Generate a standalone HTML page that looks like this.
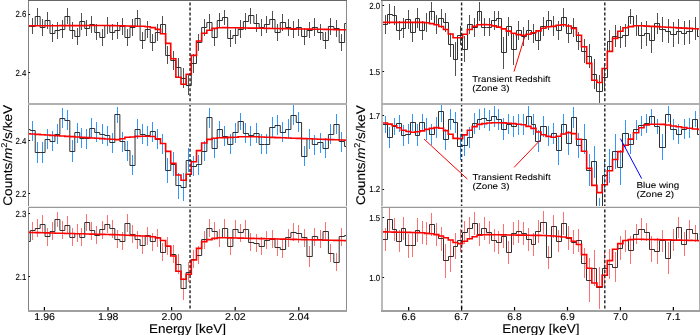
<!DOCTYPE html>
<html><head><meta charset="utf-8"><style>
html,body{margin:0;padding:0;background:#fff;}
body{width:700px;height:335px;overflow:hidden;}
svg{display:block;}
text{font-family:"Liberation Sans",sans-serif;text-rendering:geometricPrecision;}
.gt{filter:grayscale(1);}
</style></head><body>
<svg width="700" height="335" viewBox="0 0 700 335">
<rect width="700" height="335" fill="#fff"/>
<defs>
<clipPath id="cTL"><rect x="28.5" y="0.5" width="318" height="103.5"/></clipPath>
<clipPath id="cML"><rect x="28.5" y="104" width="318" height="103.5"/></clipPath>
<clipPath id="cBL"><rect x="28.5" y="207.5" width="318" height="103"/></clipPath>
<clipPath id="cTR"><rect x="382" y="0.5" width="317.5" height="103.5"/></clipPath>
<clipPath id="cMR"><rect x="382" y="104" width="317.5" height="103.5"/></clipPath>
<clipPath id="cBR"><rect x="382" y="207.5" width="317.5" height="103"/></clipPath>
</defs>
<g clip-path="url(#cTL)">
<path d="M27.50 18.00V34.00M32.50 18.00V34.00M37.50 8.00V25.00M42.50 19.00V36.00M47.50 12.00V29.00M52.50 24.00V42.00M57.50 22.00V39.00M62.50 20.00V38.00M67.50 8.00V24.00M72.50 22.00V39.00M77.50 28.00V45.00M81.50 13.00V30.00M86.50 20.00V36.00M91.50 16.00V33.00M96.50 24.00V40.00M102.50 29.00V46.00M107.50 17.00V34.00M112.50 24.00V40.00M117.50 22.00V39.00M122.50 18.00V35.00M127.50 29.00V46.00M132.50 19.00V36.00M137.50 10.00V27.00M142.50 32.00V49.00M147.50 21.00V38.00M152.50 34.00V51.00M157.50 24.00V41.00M162.50 16.00V33.00M167.50 46.00V64.00M173.50 51.00V70.00M178.50 58.00V77.00M183.50 68.00V88.00M188.50 75.00V95.00M193.50 54.00V73.00M198.50 34.00V51.00M204.50 19.00V36.00M209.50 14.00V31.00M214.50 29.00V46.00M219.50 13.00V28.00M224.50 10.00V25.00M230.50 30.00V47.00M235.50 27.00V44.00M240.50 20.00V38.00M245.50 13.00V30.00M250.50 8.00V24.00M256.50 14.00V32.00M261.50 19.00V36.00M266.50 16.00V33.00M272.50 11.00V28.00M277.50 24.00V41.00M282.50 14.00V31.00M288.50 19.00V36.00M293.50 21.00V38.00M298.50 19.00V36.00M304.50 28.00V45.00M309.50 22.00V38.00M314.50 18.00V36.00M320.50 24.00V40.00M325.50 32.00V49.00M330.50 18.00V35.00M336.50 20.00V37.00M341.50 34.00V51.00M347.50 15.00V32.00" stroke="#505050" stroke-width="1.0" fill="none"/>
<path d="M25.42 26.50H30.32V26.50H35.22V16.50H40.14V27.50H45.06V20.50H50.00V33.50H54.93V30.50H59.88V29.50H64.84V16.50H69.80V30.50H74.77V36.50H79.75V21.50H84.74V28.50H89.73V24.50H94.73V32.50H99.74V37.50H104.76V25.50H109.79V32.50H114.82V30.50H119.87V26.50H124.92V37.50H129.98V27.50H135.04V18.50H140.12V40.50H145.20V29.50H150.29V42.50H155.39V32.50H160.50V24.50H165.62V55.50H170.74V60.50H175.87V67.50H181.01V78.50H186.16V85.50H191.32V63.50H196.49V42.50H201.66V27.50H206.84V22.50H212.03V37.50H217.23V20.50H222.44V17.50H227.66V38.50H232.88V35.50H238.11V29.50H243.36V21.50H248.61V15.50H253.87V23.50H259.13V27.50H264.41V24.50H269.70V19.50H274.99V32.50H280.29V22.50H285.60V27.50H290.92V29.50H296.25V27.50H301.59V36.50H306.93V30.50H312.29V27.50H317.65V32.50H323.02V40.50H328.41V26.50H333.80V28.50H339.19V42.50H344.60V23.50H350.02" stroke="#262626" stroke-width="0.95" fill="none" stroke-linejoin="miter"/>
<path d="M25.42 25.80H30.32V25.78H35.22V25.76H40.14V25.74H45.06V25.72H50.00V25.70H54.93V25.68H59.88V25.66H64.84V25.64H69.80V25.62H74.77V25.60H79.75V25.58H84.74V25.56H89.73V25.54H94.73V25.52H99.74V25.50H104.76V25.48H109.79V25.60H114.82V25.72H119.87V25.84H124.92V25.96H129.98V26.08H135.04V26.20H140.12V26.32H145.20V26.70H150.29V27.60H155.39V29.40H160.50V33.80H165.62V43.40H170.74V58.80H175.87V77.20H181.01V84.30H186.16V74.30H191.32V55.40H196.49V41.00H201.66V33.20H206.84V30.20H212.03V28.40H217.23V27.80H222.44V27.60H227.66V27.70H232.88V27.79H238.11V27.89H243.36V27.98H248.61V28.08H253.87V28.17H259.13V28.27H264.41V28.37H269.70V28.46H274.99V28.56H280.29V28.65H285.60V28.75H290.92V28.84H296.25V28.94H301.59V29.03H306.93V29.13H312.29V29.23H317.65V29.32H323.02V29.42H328.41V29.51H333.80V29.61H339.19V29.70H344.60V29.80H350.02" stroke="#ff0000" stroke-width="1.6" fill="none"/>
</g>
<g clip-path="url(#cML)">
<path d="M27.50 119.00V139.00M32.50 121.00V141.00M37.50 142.00V163.00M42.50 142.00V163.00M47.50 129.00V149.00M52.50 131.00V151.00M57.50 124.00V144.00M62.50 108.00V128.00M67.50 110.00V130.00M72.50 140.00V162.00M77.50 123.00V143.00M81.50 128.00V148.00M86.50 129.00V149.00M91.50 118.00V138.00M96.50 122.00V142.00M102.50 124.00V144.00M107.50 126.00V146.00M112.50 133.00V153.00M117.50 107.00V123.00M122.50 132.00V152.00M127.50 141.00V161.00M132.50 155.00V175.00M137.50 119.00V139.00M142.50 124.00V144.00M147.50 126.00V146.00M152.50 122.00V142.00M157.50 129.00V149.00M162.50 134.00V154.00M167.50 158.00V183.00M173.50 152.00V176.00M178.50 173.00V199.00M183.50 173.00V201.00M188.50 148.00V172.00M193.50 156.00V176.00M198.50 155.00V175.00M204.50 141.00V161.00M209.50 108.00V128.00M214.50 138.00V158.00M219.50 121.00V138.00M224.50 126.00V146.00M230.50 134.00V154.00M235.50 123.00V143.00M240.50 113.00V130.00M245.50 123.00V143.00M250.50 126.00V146.00M256.50 123.00V143.00M261.50 134.00V154.00M266.50 134.00V154.00M272.50 117.00V137.00M277.50 115.00V135.00M282.50 122.00V142.00M288.50 119.00V139.00M293.50 105.00V125.00M298.50 112.00V132.00M304.50 146.00V166.00M309.50 129.00V149.00M314.50 135.00V155.00M320.50 133.00V153.00M325.50 138.00V158.00M330.50 124.00V144.00M336.50 114.00V134.00M341.50 132.00V152.00M347.50 136.00V156.00" stroke="#3296ff" stroke-width="1.0" fill="none"/>
<path d="M25.42 129.50H30.32V130.50H35.22V152.50H40.14V152.50H45.06V139.50H50.00V141.50H54.93V134.50H59.88V118.50H64.84V120.50H69.80V151.50H74.77V132.50H79.75V138.50H84.74V138.50H89.73V128.50H94.73V132.50H99.74V134.50H104.76V135.50H109.79V142.50H114.82V114.50H119.87V141.50H124.92V150.50H129.98V165.50H135.04V129.50H140.12V134.50H145.20V135.50H150.29V131.50H155.39V139.50H160.50V143.50H165.62V170.50H170.74V164.50H175.87V185.50H181.01V187.50H186.16V160.50H191.32V166.50H196.49V164.50H201.66V151.50H206.84V117.50H212.03V148.50H217.23V129.50H222.44V136.50H227.66V144.50H232.88V132.50H238.11V121.50H243.36V133.50H248.61V135.50H253.87V133.50H259.13V144.50H264.41V144.50H269.70V127.50H274.99V125.50H280.29V132.50H285.60V129.50H290.92V115.50H296.25V122.50H301.59V156.50H306.93V138.50H312.29V144.50H317.65V142.50H323.02V148.50H328.41V134.50H333.80V124.50H339.19V141.50H344.60V146.50H350.02" stroke="#262626" stroke-width="0.95" fill="none" stroke-linejoin="miter"/>
<path d="M25.42 133.70H30.32V134.03H35.22V134.36H40.14V134.69H45.06V135.02H50.00V135.35H54.93V135.68H59.88V136.01H64.84V136.34H69.80V136.66H74.77V136.99H79.75V137.32H84.74V137.65H89.73V137.98H94.73V138.31H99.74V138.64H104.76V138.97H109.79V139.30H114.82V139.60H119.87V138.80H124.92V137.20H129.98V137.00H135.04V136.40H140.12V136.30H145.20V136.20H150.29V136.50H155.39V138.90H160.50V143.50H165.62V151.40H170.74V163.40H175.87V175.00H181.01V180.20H186.16V174.20H191.32V161.80H196.49V150.60H201.66V143.00H206.84V139.40H212.03V138.20H217.23V137.80H222.44V137.60H227.66V137.40H232.88V137.20H238.11V136.80H243.36V136.70H248.61V136.70H253.87V136.80H259.13V137.00H264.41V137.30H269.70V137.40H274.99V137.60H280.29V137.80H285.60V138.00H290.92V138.20H296.25V138.40H301.59V138.60H306.93V138.80H312.29V139.00H317.65V139.20H323.02V139.40H328.41V139.60H333.80V139.80H339.19V140.00H344.60V140.20H350.02" stroke="#ff0000" stroke-width="1.6" fill="none"/>
</g>
<g clip-path="url(#cBL)">
<path d="M27.50 232.00V250.00M32.50 222.00V240.00M37.50 219.00V237.00M42.50 215.00V233.00M47.50 228.00V246.00M52.50 222.00V240.00M57.50 212.00V227.00M62.50 221.00V239.00M67.50 216.00V234.00M72.50 228.00V246.00M77.50 224.00V242.00M81.50 228.00V246.00M86.50 214.00V231.00M91.50 222.00V240.00M96.50 226.00V244.00M102.50 221.00V239.00M107.50 215.00V233.00M112.50 220.00V238.00M117.50 230.00V248.00M122.50 232.00V250.00M127.50 214.00V232.00M132.50 225.00V243.00M137.50 231.00V249.00M142.50 236.00V254.00M147.50 227.00V245.00M152.50 233.00V251.00M157.50 229.00V247.00M162.50 243.00V261.00M167.50 237.00V255.00M173.50 245.00V263.00M178.50 254.00V274.00M183.50 278.00V300.00M188.50 262.00V282.00M193.50 250.00V268.00M198.50 246.00V264.00M204.50 231.00V249.00M209.50 219.00V237.00M214.50 222.00V240.00M219.50 229.00V247.00M224.50 219.00V237.00M230.50 237.00V255.00M235.50 220.00V238.00M240.50 224.00V242.00M245.50 220.00V238.00M250.50 233.00V251.00M256.50 234.00V252.00M261.50 237.00V255.00M266.50 231.00V249.00M272.50 230.00V248.00M277.50 238.00V256.00M282.50 240.00V258.00M288.50 229.00V247.00M293.50 223.00V241.00M298.50 225.00V243.00M304.50 229.00V247.00M309.50 246.00V267.00M314.50 228.00V246.00M320.50 230.00V248.00M325.50 222.00V240.00M330.50 244.00V262.00M336.50 253.00V271.00M341.50 228.00V246.00M347.50 226.00V244.00" stroke="#ff7070" stroke-width="1.0" fill="none"/>
<path d="M25.42 241.50H30.32V230.50H35.22V228.50H40.14V224.50H45.06V236.50H50.00V231.50H54.93V219.50H59.88V230.50H64.84V225.50H69.80V237.50H74.77V233.50H79.75V237.50H84.74V222.50H89.73V230.50H94.73V235.50H99.74V229.50H104.76V224.50H109.79V228.50H114.82V239.50H119.87V241.50H124.92V223.50H129.98V234.50H135.04V239.50H140.12V245.50H145.20V235.50H150.29V241.50H155.39V237.50H160.50V252.50H165.62V246.50H170.74V254.50H175.87V264.50H181.01V288.50H186.16V272.50H191.32V259.50H196.49V255.50H201.66V239.50H206.84V228.50H212.03V231.50H217.23V237.50H222.44V228.50H227.66V246.50H232.88V229.50H238.11V232.50H243.36V229.50H248.61V242.50H253.87V243.50H259.13V246.50H264.41V240.50H269.70V239.50H274.99V247.50H280.29V249.50H285.60V237.50H290.92V232.50H296.25V233.50H301.59V237.50H306.93V256.50H312.29V236.50H317.65V239.50H323.02V231.50H328.41V253.50H333.80V262.50H339.19V236.50H344.60V235.50H350.02" stroke="#262626" stroke-width="0.95" fill="none" stroke-linejoin="miter"/>
<path d="M25.42 232.40H30.32V232.53H35.22V232.66H40.14V232.79H45.06V232.92H50.00V233.05H54.93V233.18H59.88V233.31H64.84V233.44H69.80V233.56H74.77V233.69H79.75V233.82H84.74V233.95H89.73V234.08H94.73V234.21H99.74V234.34H104.76V234.47H109.79V234.60H114.82V234.80H119.87V235.00H124.92V235.20H129.98V235.40H135.04V235.70H140.12V236.00H145.20V236.20H150.29V236.80H155.39V238.00H160.50V240.50H165.62V246.00H170.74V256.00H175.87V271.30H181.01V279.20H186.16V274.20H191.32V260.00H196.49V248.40H201.66V241.60H206.84V239.60H212.03V238.40H217.23V237.80H222.44V237.80H227.66V237.92H232.88V238.04H238.11V238.17H243.36V238.29H248.61V238.41H253.87V238.53H259.13V238.65H264.41V238.77H269.70V238.90H274.99V239.02H280.29V239.14H285.60V239.26H290.92V239.38H296.25V239.50H301.59V239.63H306.93V239.75H312.29V239.87H317.65V239.99H323.02V240.11H328.41V240.23H333.80V240.36H339.19V240.48H344.60V240.60H350.02" stroke="#ff0000" stroke-width="1.6" fill="none"/>
</g>
<g clip-path="url(#cTR)">
<path d="M380.50 14.00V32.00M385.50 15.00V34.00M389.50 4.00V24.00M394.50 6.00V25.00M399.50 21.00V40.00M403.50 18.00V38.00M408.50 10.00V29.00M412.50 23.00V42.00M417.50 8.00V28.00M422.50 21.00V40.00M426.50 13.00V32.00M431.50 2.00V20.00M436.50 15.00V34.00M441.50 9.00V28.00M445.50 13.00V32.00M450.50 33.00V57.00M455.50 42.00V76.00M460.50 26.00V45.00M464.50 36.00V62.00M469.50 15.00V34.00M474.50 18.00V37.00M479.50 2.00V21.00M484.50 18.00V36.00M489.50 18.00V36.00M494.50 11.00V30.00M498.50 11.00V27.00M503.50 37.00V69.00M508.50 17.00V36.00M513.50 33.00V65.00M518.50 21.00V40.00M523.50 27.00V46.00M528.50 20.00V40.00M533.50 24.00V43.00M538.50 31.00V50.00M543.50 17.00V36.00M548.50 11.00V30.00M553.50 16.00V36.00M558.50 21.00V40.00M563.50 8.00V27.00M568.50 24.00V43.00M573.50 18.00V37.00M578.50 32.00V50.00M584.50 39.00V63.00M589.50 44.00V68.00M594.50 59.00V89.00M599.50 75.00V107.00M604.50 64.00V90.00M609.50 30.00V52.00M615.50 25.00V47.00M620.50 26.00V48.00M625.50 24.00V47.00M630.50 9.00V24.00M636.50 15.00V36.00M641.50 22.00V49.00M646.50 21.00V46.00M651.50 27.00V53.00M657.50 13.00V34.00M662.50 17.00V42.00M668.50 19.00V43.00M673.50 22.00V47.00M678.50 19.00V44.00M684.50 21.00V45.00M689.50 20.00V44.00M695.50 17.00V40.00M700.50 24.00V48.00" stroke="#505050" stroke-width="1.0" fill="none"/>
<path d="M378.50 23.50H382.50V24.50H387.50V14.50H392.50V15.50H396.50V30.50H401.50V28.50H405.50V19.50H410.50V32.50H415.50V18.50H419.50V30.50H424.50V22.50H429.50V11.50H434.50V24.50H438.50V18.50H443.50V22.50H448.50V44.50H453.50V59.50H457.50V35.50H462.50V49.50H467.50V24.50H472.50V27.50H477.50V11.50H481.50V27.50H486.50V27.50H491.50V20.50H496.50V18.50H501.50V52.50H506.50V26.50H511.50V49.50H516.50V30.50H521.50V36.50H526.50V30.50H531.50V33.50H535.50V40.50H540.50V26.50H546.50V20.50H551.50V26.50H556.50V30.50H561.50V17.50H566.50V33.50H571.50V27.50H576.50V41.50H581.50V51.50H586.50V56.50H591.50V74.50H596.50V91.50H602.50V77.50H607.50V41.50H612.50V36.50H617.50V37.50H622.50V35.50H628.50V16.50H633.50V25.50H638.50V35.50H644.50V33.50H649.50V40.50H654.50V23.50H659.50V29.50H665.50V31.50H670.50V34.50H676.50V31.50H681.50V33.50H686.50V31.50H692.50V28.50H697.50V36.50H703.50" stroke="#262626" stroke-width="0.95" fill="none" stroke-linejoin="miter"/>
<path d="M378.34 22.40H382.91V22.40H387.50V22.40H392.10V22.40H396.71V22.40H401.34V22.40H405.97V22.40H410.62V22.40H415.28V22.40H419.96V22.40H424.64V22.80H429.34V23.60H434.05V24.80H438.78V26.50H443.51V29.50H448.26V34.00H453.03V37.80H457.80V37.80H462.59V34.30H467.39V29.50H472.20V26.20H477.03V24.70H481.87V24.60H486.72V24.70H491.59V25.90H496.47V27.10H501.36V28.90H506.27V31.10H511.19V33.30H516.12V34.60H521.07V35.20H526.03V34.20H531.01V32.70H535.99V30.90H541.00V28.20H546.01V26.80H551.04V26.40H556.09V25.20H561.14V24.80H566.21V26.00H571.30V28.40H576.40V35.30H581.51V46.80H586.64V63.40H591.79V80.30H596.94V82.50H602.12V68.50H607.30V51.40H612.50V38.40H617.72V31.30H622.95V27.80H628.19V26.60H633.45V25.80H638.73V25.80H644.02V26.09H649.32V26.38H654.64V26.67H659.98V26.96H665.33V27.25H670.69V27.55H676.08V27.84H681.47V28.13H686.88V28.42H692.31V28.71H697.76V29.00H703.22" stroke="#ff0000" stroke-width="1.6" fill="none"/>
</g>
<g clip-path="url(#cMR)">
<path d="M380.50 124.00V146.00M385.50 116.00V133.00M389.50 127.00V148.00M394.50 118.00V135.00M399.50 115.00V132.00M403.50 125.00V146.00M408.50 124.00V144.00M412.50 114.00V131.00M417.50 124.00V146.00M422.50 114.00V131.00M426.50 118.00V140.00M431.50 124.00V145.00M436.50 117.00V138.00M441.50 101.00V122.00M445.50 129.00V150.00M450.50 109.00V130.00M455.50 112.00V133.00M460.50 134.00V160.00M464.50 134.00V156.00M469.50 127.00V148.00M474.50 113.00V134.00M479.50 109.00V130.00M484.50 108.00V128.00M489.50 110.00V131.00M494.50 106.00V127.00M498.50 109.00V130.00M503.50 118.00V140.00M508.50 114.00V134.00M513.50 116.00V137.00M518.50 114.00V135.00M523.50 114.00V135.00M528.50 106.00V127.00M533.50 114.00V135.00M538.50 130.00V152.00M543.50 116.00V137.00M548.50 126.00V146.00M553.50 123.00V144.00M558.50 136.00V165.00M563.50 114.00V135.00M568.50 131.00V155.00M573.50 107.00V128.00M578.50 133.00V158.00M584.50 124.00V154.00M589.50 154.00V186.00M594.50 146.00V178.00M599.50 198.00V232.00M604.50 160.00V192.00M609.50 149.00V183.00M615.50 134.00V169.00M620.50 150.00V185.00M625.50 120.00V148.00M630.50 134.00V154.00M636.50 120.00V140.00M641.50 116.00V136.00M646.50 114.00V133.00M651.50 109.00V125.00M657.50 119.00V134.00M662.50 134.00V160.00M668.50 106.00V122.00M673.50 119.00V140.00M678.50 124.00V144.00M684.50 119.00V139.00M689.50 118.00V138.00M695.50 111.00V127.00M700.50 124.00V145.00" stroke="#3296ff" stroke-width="1.0" fill="none"/>
<path d="M378.50 135.50H382.50V124.50H387.50V137.50H392.50V126.50H396.50V123.50H401.50V135.50H405.50V134.50H410.50V122.50H415.50V135.50H419.50V122.50H424.50V129.50H429.50V134.50H434.50V127.50H438.50V111.50H443.50V139.50H448.50V119.50H453.50V122.50H457.50V146.50H462.50V145.50H467.50V137.50H472.50V123.50H477.50V119.50H481.50V118.50H486.50V120.50H491.50V116.50H496.50V119.50H501.50V129.50H506.50V124.50H511.50V126.50H516.50V124.50H521.50V124.50H526.50V116.50H531.50V124.50H535.50V141.50H540.50V126.50H546.50V136.50H551.50V133.50H556.50V150.50H561.50V124.50H566.50V143.50H571.50V117.50H576.50V145.50H581.50V139.50H586.50V170.50H591.50V161.50H596.50V215.50H602.50V175.50H607.50V166.50H612.50V151.50H617.50V167.50H622.50V133.50H628.50V144.50H633.50V129.50H638.50V125.50H644.50V123.50H649.50V116.50H654.50V126.50H659.50V147.50H665.50V114.50H670.50V129.50H676.50V134.50H681.50V129.50H686.50V128.50H692.50V119.50H697.50V134.50H703.50" stroke="#262626" stroke-width="0.95" fill="none" stroke-linejoin="miter"/>
<path d="M378.34 123.00H382.91V123.00H387.50V124.10H392.10V125.70H396.71V127.80H401.34V130.20H405.97V131.50H410.62V132.30H415.28V131.80H419.96V130.90H424.64V129.40H429.34V128.40H434.05V127.60H438.78V128.20H443.51V130.60H448.26V134.20H453.03V138.40H457.80V138.60H462.59V134.90H467.39V130.30H472.20V126.60H477.03V124.40H481.87V123.60H486.72V123.00H491.59V122.80H496.47V122.80H501.36V122.90H506.27V123.20H511.19V123.60H516.12V124.20H521.07V124.80H526.03V126.40H531.01V128.40H535.99V132.00H541.00V134.80H546.01V136.40H551.04V137.20H556.09V136.20H561.14V134.00H566.21V132.60H571.30V133.60H576.40V139.20H581.51V151.20H586.64V168.40H591.79V185.40H596.94V192.60H602.12V184.80H607.30V170.80H612.50V159.50H617.72V151.60H622.95V145.30H628.19V139.10H633.45V132.70H638.73V127.70H644.02V124.90H649.32V124.20H654.64V124.20H659.98V124.40H665.33V125.00H670.69V126.00H676.08V126.80H681.47V127.60H686.88V128.30H692.31V129.00H697.76V129.40H703.22" stroke="#ff0000" stroke-width="1.6" fill="none"/>
</g>
<g clip-path="url(#cBR)">
<path d="M380.50 224.00V248.00M385.50 228.00V251.00M389.50 208.00V231.00M394.50 218.00V241.00M399.50 230.00V252.00M403.50 217.00V240.00M408.50 234.00V258.00M412.50 233.00V257.00M417.50 218.00V242.00M422.50 221.00V244.00M426.50 222.00V245.00M431.50 213.00V236.00M436.50 223.00V246.00M441.50 227.00V251.00M445.50 244.00V278.00M450.50 240.00V272.00M455.50 233.00V259.00M460.50 229.00V252.00M464.50 221.00V244.00M469.50 217.00V240.00M474.50 212.00V235.00M479.50 223.00V246.00M484.50 217.00V240.00M489.50 221.00V244.00M494.50 229.00V252.00M498.50 231.00V254.00M503.50 224.00V248.00M508.50 241.00V264.00M513.50 222.00V245.00M518.50 220.00V243.00M523.50 222.00V245.00M528.50 228.00V251.00M533.50 233.00V256.00M538.50 220.00V243.00M543.50 211.00V234.00M548.50 246.00V269.00M553.50 215.00V238.00M558.50 230.00V252.00M563.50 212.00V235.00M568.50 226.00V250.00M573.50 230.00V254.00M578.50 229.00V252.00M584.50 248.00V278.00M589.50 258.00V302.00M594.50 250.00V286.00M599.50 267.00V309.00M604.50 251.00V285.00M609.50 249.00V279.00M615.50 252.00V282.00M620.50 236.00V260.00M625.50 230.00V252.00M630.50 236.00V264.00M636.50 224.00V244.00M641.50 218.00V241.00M646.50 223.00V241.00M651.50 236.00V262.00M657.50 238.00V264.00M662.50 230.00V252.00M668.50 242.00V274.00M673.50 229.00V251.00M678.50 217.00V238.00M684.50 232.00V256.00M689.50 220.00V239.00M695.50 225.00V242.00M700.50 229.00V252.00" stroke="#ff7070" stroke-width="1.0" fill="none"/>
<path d="M378.50 236.50H382.50V239.50H387.50V219.50H392.50V229.50H396.50V241.50H401.50V228.50H405.50V245.50H410.50V245.50H415.50V230.50H419.50V232.50H424.50V233.50H429.50V224.50H434.50V234.50H438.50V238.50H443.50V260.50H448.50V256.50H453.50V246.50H457.50V240.50H462.50V232.50H467.50V228.50H472.50V223.50H477.50V234.50H481.50V228.50H486.50V232.50H491.50V240.50H496.50V242.50H501.50V236.50H506.50V252.50H511.50V233.50H516.50V231.50H521.50V233.50H526.50V239.50H531.50V244.50H535.50V231.50H540.50V222.50H546.50V257.50H551.50V226.50H556.50V241.50H561.50V223.50H566.50V238.50H571.50V242.50H576.50V240.50H581.50V263.50H586.50V280.50H591.50V268.50H596.50V287.50H602.50V268.50H607.50V264.50H612.50V267.50H617.50V248.50H622.50V240.50H628.50V250.50H633.50V234.50H638.50V229.50H644.50V232.50H649.50V249.50H654.50V251.50H659.50V240.50H665.50V258.50H670.50V240.50H676.50V227.50H681.50V244.50H686.50V229.50H692.50V233.50H697.50V240.50H703.50" stroke="#262626" stroke-width="0.95" fill="none" stroke-linejoin="miter"/>
<path d="M378.34 231.80H382.91V231.90H387.50V232.00H392.10V232.10H396.71V232.20H401.34V232.30H405.97V232.40H410.62V232.50H415.28V232.60H419.96V232.70H424.64V233.40H429.34V233.80H434.05V234.60H438.78V236.00H443.51V237.70H448.26V240.00H453.03V242.50H457.80V243.60H462.59V241.20H467.39V238.80H472.20V236.80H477.03V235.20H481.87V234.70H486.72V234.60H491.59V234.68H496.47V234.76H501.36V234.85H506.27V234.93H511.19V235.01H516.12V235.09H521.07V235.17H526.03V235.25H531.01V235.34H535.99V235.42H541.00V235.50H546.01V235.80H551.04V236.00H556.09V236.50H561.14V237.00H566.21V237.80H571.30V241.20H576.40V244.50H581.51V254.60H586.64V268.30H591.79V283.00H596.94V286.80H602.12V275.30H607.30V260.60H612.50V249.30H617.72V243.60H622.95V240.50H628.19V239.60H633.45V239.20H638.73V239.32H644.02V239.43H649.32V239.55H654.64V239.67H659.98V239.78H665.33V239.90H670.69V240.02H676.08V240.13H681.47V240.25H686.88V240.37H692.31V240.48H697.76V240.60H703.22" stroke="#ff0000" stroke-width="1.6" fill="none"/>
</g>
<g stroke="#262626" stroke-width="1.45" stroke-dasharray="3.0 2.05">
<path d="M190.05 2.4V310.5M461.6 2.4V310.5M604.8 2.4V310.5"/>
</g>
<g shape-rendering="crispEdges">
<rect x="28" y="0" width="1" height="311" fill="#808080"/>
<rect x="346" y="0" width="1" height="311" fill="#8c8c8c"/>
<rect x="28" y="0" width="319" height="1" fill="#666"/>
<rect x="28" y="103" width="319" height="2" fill="#b0b0b0"/>
<rect x="28" y="207" width="319" height="1" fill="#999"/>
<rect x="28" y="206" width="319" height="1" fill="#e6e6e6"/>
<rect x="28" y="310" width="319" height="2" fill="#a0a0a0"/>
<rect x="381" y="0" width="2" height="311" fill="#bbb"/>
<rect x="699" y="0" width="1" height="311" fill="#afafaf"/>
<rect x="381" y="0" width="319" height="1" fill="#666"/>
<rect x="381" y="103" width="319" height="2" fill="#b0b0b0"/>
<rect x="381" y="207" width="319" height="1" fill="#999"/>
<rect x="381" y="206" width="319" height="1" fill="#e6e6e6"/>
<rect x="381" y="310" width="319" height="2" fill="#a0a0a0"/>
</g>
<path d="M28.5 14.5h1.6M28.5 72.5h1.6M28.5 140.5h1.6M28.5 193.5h1.6M28.5 213.5h1.6M28.5 276.5h1.6M382.5 5.5h1.6M382.5 71.5h1.6M382.5 115.5h1.6M382.5 189.5h1.6M382.5 217.5h1.6M382.5 277.5h1.6M44.4 310.5v-3.5M108 310.5v-3.5M171.6 310.5v-3.5M235.2 310.5v-3.5M298.8 310.5v-3.5M408.67 310.5v-3.5M461.61 310.5v-3.5M514.55 310.5v-3.5M567.49 310.5v-3.5M620.43 310.5v-3.5M673.37 310.5v-3.5" stroke="#000" stroke-width="1.2" fill="none"/>
<g class="gt" fill="#000" stroke="#000" stroke-width="0.12"><text x="26.3" y="17.4" text-anchor="end" font-size="8.8" textLength="10.9" lengthAdjust="spacingAndGlyphs">2.6</text>
<text x="26.3" y="75.8" text-anchor="end" font-size="8.8" textLength="10.9" lengthAdjust="spacingAndGlyphs">2.4</text>
<text x="26.3" y="143.7" text-anchor="end" font-size="8.8" textLength="10.9" lengthAdjust="spacingAndGlyphs">2.4</text>
<text x="26.3" y="196.5" text-anchor="end" font-size="8.8" textLength="10.9" lengthAdjust="spacingAndGlyphs">2.2</text>
<text x="26.3" y="216.7" text-anchor="end" font-size="8.8" textLength="10.9" lengthAdjust="spacingAndGlyphs">2.3</text>
<text x="26.3" y="279.9" text-anchor="end" font-size="8.8" textLength="10.9" lengthAdjust="spacingAndGlyphs">2.1</text>
<text x="380.2" y="9.2" text-anchor="end" font-size="8.8" textLength="10.9" lengthAdjust="spacingAndGlyphs">2.0</text>
<text x="380.2" y="74.5" text-anchor="end" font-size="8.8" textLength="10.9" lengthAdjust="spacingAndGlyphs">1.5</text>
<text x="380.2" y="119.0" text-anchor="end" font-size="8.8" textLength="10.9" lengthAdjust="spacingAndGlyphs">1.7</text>
<text x="380.2" y="192.3" text-anchor="end" font-size="8.8" textLength="10.9" lengthAdjust="spacingAndGlyphs">1.2</text>
<text x="380.2" y="220.5" text-anchor="end" font-size="8.8" textLength="10.9" lengthAdjust="spacingAndGlyphs">1.5</text>
<text x="380.2" y="280.6" text-anchor="end" font-size="8.8" textLength="10.9" lengthAdjust="spacingAndGlyphs">1.0</text>
<text transform="translate(44.60 320)" text-anchor="middle" font-size="10" textLength="20.6" lengthAdjust="spacingAndGlyphs">1.96</text>
<text transform="translate(108.20 320)" text-anchor="middle" font-size="10" textLength="20.6" lengthAdjust="spacingAndGlyphs">1.98</text>
<text transform="translate(171.80 320)" text-anchor="middle" font-size="10" textLength="20.6" lengthAdjust="spacingAndGlyphs">2.00</text>
<text transform="translate(235.40 320)" text-anchor="middle" font-size="10" textLength="20.6" lengthAdjust="spacingAndGlyphs">2.02</text>
<text transform="translate(299.00 320)" text-anchor="middle" font-size="10" textLength="20.6" lengthAdjust="spacingAndGlyphs">2.04</text>
<text transform="translate(408.67 320)" text-anchor="middle" font-size="10" textLength="14.5" lengthAdjust="spacingAndGlyphs">6.6</text>
<text transform="translate(461.61 320)" text-anchor="middle" font-size="10" textLength="14.5" lengthAdjust="spacingAndGlyphs">6.7</text>
<text transform="translate(514.55 320)" text-anchor="middle" font-size="10" textLength="14.5" lengthAdjust="spacingAndGlyphs">6.8</text>
<text transform="translate(567.49 320)" text-anchor="middle" font-size="10" textLength="14.5" lengthAdjust="spacingAndGlyphs">6.9</text>
<text transform="translate(620.43 320)" text-anchor="middle" font-size="10" textLength="14.5" lengthAdjust="spacingAndGlyphs">7.0</text>
<text transform="translate(673.37 320)" text-anchor="middle" font-size="10" textLength="14.5" lengthAdjust="spacingAndGlyphs">7.1</text>
<text x="187.5" y="332.9" text-anchor="middle" font-size="12.8" textLength="77.2" lengthAdjust="spacingAndGlyphs">Energy [keV]</text>
<text x="540.8" y="332.9" text-anchor="middle" font-size="12.8" textLength="77.2" lengthAdjust="spacingAndGlyphs">Energy [keV]</text>
<text transform="translate(11.8 155.35) rotate(-90)" x="-50.3" font-size="12.5" textLength="100.6" lengthAdjust="spacingAndGlyphs">Counts/<tspan font-style="italic">m</tspan><tspan font-size="8.5" dy="-4.6">2</tspan><tspan dy="4.6">/s/keV</tspan></text>
<text transform="translate(365 155.2) rotate(-90)" x="-49.9" font-size="12.5" textLength="99.8" lengthAdjust="spacingAndGlyphs">Counts/<tspan font-style="italic">m</tspan><tspan font-size="8.5" dy="-4.6">2</tspan><tspan dy="4.6">/s/keV</tspan></text></g>
<path d="M514 71.6L524.8 36.4" stroke="#f00" stroke-width="1" fill="none"/>
<path d="M467.3 179L424 139M514.1 167.4L540.2 140.1" stroke="#f00" stroke-width="1" fill="none"/>
<path d="M641.7 178.6L620.4 138.6" stroke="#00f" stroke-width="1" fill="none"/>
<g class="gt" fill="#000" stroke="#000" stroke-width="0.08" font-size="8.6">
<text x="472.3" y="81.9" textLength="78.2" lengthAdjust="spacingAndGlyphs">Transient Redshift</text><text x="472.3" y="91.4" textLength="37.2" lengthAdjust="spacingAndGlyphs">(Zone 3)</text>
<text x="472.4" y="179.5" textLength="78.2" lengthAdjust="spacingAndGlyphs">Transient Redshift</text><text x="472.4" y="188.8" textLength="37.2" lengthAdjust="spacingAndGlyphs">(Zone 3)</text>
<text x="636.4" y="188.4" textLength="42.8" lengthAdjust="spacingAndGlyphs">Blue wing</text><text x="636.4" y="197.3" textLength="37.8" lengthAdjust="spacingAndGlyphs">(Zone 2)</text>
</g>
</svg></body></html>
